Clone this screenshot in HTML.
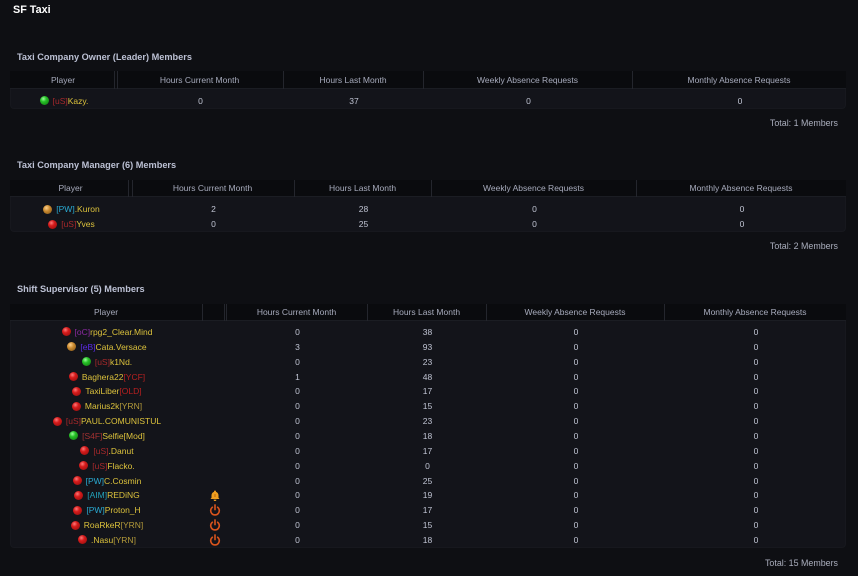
<!DOCTYPE html>
<html><head><meta charset="utf-8">
<style>
*{margin:0;padding:0;box-sizing:border-box}
html,body{width:858px;height:576px;overflow:hidden;background:#0e0f13;font-family:"Liberation Sans",Arial,sans-serif}
.t{position:absolute;white-space:nowrap}
.title{left:13px;top:3px;font-size:10.8px;font-weight:bold;color:#fff;line-height:14px}
.sec{left:17px;font-size:9.2px;font-weight:bold;color:#bcc1d4;line-height:12px}
.tot{right:20px;font-size:8.9px;color:#a9adbc;line-height:12px}
.tbl{position:absolute;left:10px;width:836px}
.hd{position:relative;background:#0a0b0e;border-bottom:1px solid #1b1d23}
.hd span{position:absolute;top:0;text-align:center;font-size:8.5px;color:#a7abbc;white-space:nowrap}
.hd i{position:absolute;top:0;width:1px;background:#24262d}
.bd{background:#13141a;border-radius:0 0 4px 4px;border:1px solid #17181e;border-top:none}
.row{display:flex;align-items:center;font-size:8.5px;color:#c0c4d3;white-space:nowrap}
.row>div{flex:none;text-align:center;display:flex;align-items:center;justify-content:center}
.dot{display:inline-block;width:9px;height:9px;border-radius:50%;margin-right:4px}
.r{background:radial-gradient(circle at 38% 32%,#ff7a7a 0,#d61c1c 35%,#8c0a0a 100%)}
.g{background:radial-gradient(circle at 38% 32%,#9dff9d 0,#27c127 35%,#0e6e0e 100%)}
.o{background:radial-gradient(circle at 38% 32%,#ffd08a 0,#c98a30 40%,#7a4e14 100%)}
.y{color:#dcc23c}
.us{color:#a8292b}
.pw{color:#2aaad2}
.oc{color:#8a2aa0}
.eb{color:#5a2ae4}
.rd{color:#b82020}
.tan{color:#b39a3a}
.s4{color:#a33232}
.aim{color:#22a2ba}
</style></head><body>

<div class="t title">SF Taxi</div>

<!-- Table 1 -->
<div class="t sec" style="top:51px">Taxi Company Owner (Leader) Members</div>
<div class="tbl" style="top:71px">
  <div class="hd" style="height:18px">
    <span style="left:0;width:106px;line-height:18px">Player</span>
    <span style="left:106px;width:167px;line-height:18px">Hours Current Month</span>
    <span style="left:273px;width:140px;line-height:18px">Hours Last Month</span>
    <span style="left:413px;width:209px;line-height:18px">Weekly Absence Requests</span>
    <span style="left:622px;width:214px;line-height:18px">Monthly Absence Requests</span>
    <i style="left:104px;height:18px"></i><i style="left:107px;height:18px"></i>
    <i style="left:273px;height:18px"></i><i style="left:413px;height:18px"></i><i style="left:622px;height:18px"></i>
  </div>
  <div class="bd" style="height:20px;padding-top:4px">
    <div class="row" style="height:15px">
      <div style="width:106px"><span class="dot g"></span><span class="us">[uS]</span><span class="y">Kazy.</span></div>
      <div style="width:167px">0</div><div style="width:140px">37</div><div style="width:209px">0</div><div style="width:214px">0</div>
    </div>
  </div>
</div>
<div class="t tot" style="top:117px">Total: 1 Members</div>

<!-- Table 2 -->
<div class="t sec" style="top:159px">Taxi Company Manager (6) Members</div>
<div class="tbl" style="top:180px">
  <div class="hd" style="height:17px">
    <span style="left:0;width:121px;line-height:17px">Player</span>
    <span style="left:121px;width:163px;line-height:17px">Hours Current Month</span>
    <span style="left:284px;width:137px;line-height:17px">Hours Last Month</span>
    <span style="left:421px;width:205px;line-height:17px">Weekly Absence Requests</span>
    <span style="left:626px;width:210px;line-height:17px">Monthly Absence Requests</span>
    <i style="left:118px;height:17px"></i><i style="left:122px;height:17px"></i>
    <i style="left:284px;height:17px"></i><i style="left:421px;height:17px"></i><i style="left:626px;height:17px"></i>
  </div>
  <div class="bd" style="height:35px;padding-top:4.5px">
    <div class="row" style="height:15px">
      <div style="width:121px"><span class="dot o"></span><span class="pw">[PW]</span><span class="y">.Kuron</span></div>
      <div style="width:163px">2</div><div style="width:137px">28</div><div style="width:205px">0</div><div style="width:210px">0</div>
    </div>
    <div class="row" style="height:15px">
      <div style="width:121px"><span class="dot r"></span><span class="us">[uS]</span><span class="y">Yves</span></div>
      <div style="width:163px">0</div><div style="width:137px">25</div><div style="width:205px">0</div><div style="width:210px">0</div>
    </div>
  </div>
</div>
<div class="t tot" style="top:240px">Total: 2 Members</div>

<!-- Table 3 -->
<div class="t sec" style="top:283px">Shift Supervisor (5) Members</div>
<div class="tbl" style="top:304px">
  <div class="hd" style="height:17px">
    <span style="left:0;width:192px;line-height:17px">Player</span>
    <span style="left:216px;width:141px;line-height:17px">Hours Current Month</span>
    <span style="left:357px;width:119px;line-height:17px">Hours Last Month</span>
    <span style="left:476px;width:178px;line-height:17px">Weekly Absence Requests</span>
    <span style="left:654px;width:182px;line-height:17px">Monthly Absence Requests</span>
    <i style="left:192px;height:17px"></i>
    <i style="left:214px;height:17px"></i><i style="left:216px;height:17px"></i>
    <i style="left:357px;height:17px"></i><i style="left:476px;height:17px"></i><i style="left:654px;height:17px"></i>
  </div>
  <div class="bd" style="height:227px;padding-top:3.5px">
    <div class="row" style="height:14.86px"><div style="width:192px"><span class="dot r"></span><span class="oc">[oC]</span><span class="y">rpg2_Clear.Mind</span></div><div style="width:24px"></div><div style="width:141px">0</div><div style="width:119px">38</div><div style="width:178px">0</div><div style="width:182px">0</div></div>
    <div class="row" style="height:14.86px"><div style="width:192px"><span class="dot o"></span><span class="eb">[eB]</span><span class="y">Cata.Versace</span></div><div style="width:24px"></div><div style="width:141px">3</div><div style="width:119px">93</div><div style="width:178px">0</div><div style="width:182px">0</div></div>
    <div class="row" style="height:14.86px"><div style="width:192px"><span class="dot g"></span><span class="us">[uS]</span><span class="y">k1Nd.</span></div><div style="width:24px"></div><div style="width:141px">0</div><div style="width:119px">23</div><div style="width:178px">0</div><div style="width:182px">0</div></div>
    <div class="row" style="height:14.86px"><div style="width:192px"><span class="dot r"></span><span class="y">Baghera22</span><span class="rd">[YCF]</span></div><div style="width:24px"></div><div style="width:141px">1</div><div style="width:119px">48</div><div style="width:178px">0</div><div style="width:182px">0</div></div>
    <div class="row" style="height:14.86px"><div style="width:192px"><span class="dot r"></span><span class="y">TaxiLiber</span><span class="rd">[OLD]</span></div><div style="width:24px"></div><div style="width:141px">0</div><div style="width:119px">17</div><div style="width:178px">0</div><div style="width:182px">0</div></div>
    <div class="row" style="height:14.86px"><div style="width:192px"><span class="dot r"></span><span class="y">Marius2k</span><span class="tan">[YRN]</span></div><div style="width:24px"></div><div style="width:141px">0</div><div style="width:119px">15</div><div style="width:178px">0</div><div style="width:182px">0</div></div>
    <div class="row" style="height:14.86px"><div style="width:192px"><span class="dot r"></span><span class="us">[uS]</span><span class="y">PAUL.COMUNISTUL</span></div><div style="width:24px"></div><div style="width:141px">0</div><div style="width:119px">23</div><div style="width:178px">0</div><div style="width:182px">0</div></div>
    <div class="row" style="height:14.86px"><div style="width:192px"><span class="dot g"></span><span class="s4">[S4F]</span><span class="y">Selfie[Mod]</span></div><div style="width:24px"></div><div style="width:141px">0</div><div style="width:119px">18</div><div style="width:178px">0</div><div style="width:182px">0</div></div>
    <div class="row" style="height:14.86px"><div style="width:192px"><span class="dot r"></span><span class="us">[uS]</span><span class="y">.Danut</span></div><div style="width:24px"></div><div style="width:141px">0</div><div style="width:119px">17</div><div style="width:178px">0</div><div style="width:182px">0</div></div>
    <div class="row" style="height:14.86px"><div style="width:192px"><span class="dot r"></span><span class="us">[uS]</span><span class="y">Flacko.</span></div><div style="width:24px"></div><div style="width:141px">0</div><div style="width:119px">0</div><div style="width:178px">0</div><div style="width:182px">0</div></div>
    <div class="row" style="height:14.86px"><div style="width:192px"><span class="dot r"></span><span class="pw">[PW]</span><span class="y">C.Cosmin</span></div><div style="width:24px"></div><div style="width:141px">0</div><div style="width:119px">25</div><div style="width:178px">0</div><div style="width:182px">0</div></div>
    <div class="row" style="height:14.86px"><div style="width:192px"><span class="dot r"></span><span class="aim">[AIM]</span><span class="y">REDiNG</span></div><div style="width:24px"><svg width="10" height="11" viewBox="0 0 10 11"><path d="M5 0.5a1 1 0 0 1 1 1v0.4c1.6 0.5 2.5 1.8 2.5 3.6v2.2l1 1.3H0.5l1-1.3V5.5c0-1.8 0.9-3.1 2.5-3.6V1.5a1 1 0 0 1 1-1z" fill="#f0a020"/><path d="M3.6 9.6h2.8a1.4 1.4 0 0 1-2.8 0z" fill="#f0a020"/><rect x="4.4" y="4" width="1.2" height="3" fill="#c07010"/></svg></div><div style="width:141px">0</div><div style="width:119px">19</div><div style="width:178px">0</div><div style="width:182px">0</div></div>
    <div class="row" style="height:14.86px"><div style="width:192px"><span class="dot r"></span><span class="pw">[PW]</span><span class="y">Proton_H</span></div><div style="width:24px"><svg width="12" height="12" viewBox="0 0 12 12"><path d="M3.4 3.2A4.3 4.3 0 1 0 8.6 3.2" fill="none" stroke="#d9541c" stroke-width="1.6" stroke-linecap="round"/><line x1="6" y1="0.9" x2="6" y2="5.6" stroke="#d9541c" stroke-width="1.6" stroke-linecap="round"/></svg></div><div style="width:141px">0</div><div style="width:119px">17</div><div style="width:178px">0</div><div style="width:182px">0</div></div>
    <div class="row" style="height:14.86px"><div style="width:192px"><span class="dot r"></span><span class="y">RoaRkeR</span><span class="tan">[YRN]</span></div><div style="width:24px"><svg width="12" height="12" viewBox="0 0 12 12"><path d="M3.4 3.2A4.3 4.3 0 1 0 8.6 3.2" fill="none" stroke="#d9541c" stroke-width="1.6" stroke-linecap="round"/><line x1="6" y1="0.9" x2="6" y2="5.6" stroke="#d9541c" stroke-width="1.6" stroke-linecap="round"/></svg></div><div style="width:141px">0</div><div style="width:119px">15</div><div style="width:178px">0</div><div style="width:182px">0</div></div>
    <div class="row" style="height:14.86px"><div style="width:192px"><span class="dot r"></span><span class="y">.Nasu</span><span class="tan">[YRN]</span></div><div style="width:24px"><svg width="12" height="12" viewBox="0 0 12 12"><path d="M3.4 3.2A4.3 4.3 0 1 0 8.6 3.2" fill="none" stroke="#d9541c" stroke-width="1.6" stroke-linecap="round"/><line x1="6" y1="0.9" x2="6" y2="5.6" stroke="#d9541c" stroke-width="1.6" stroke-linecap="round"/></svg></div><div style="width:141px">0</div><div style="width:119px">18</div><div style="width:178px">0</div><div style="width:182px">0</div></div>
  </div>
</div>
<div class="t tot" style="top:557px">Total: 15 Members</div>

</body></html>
